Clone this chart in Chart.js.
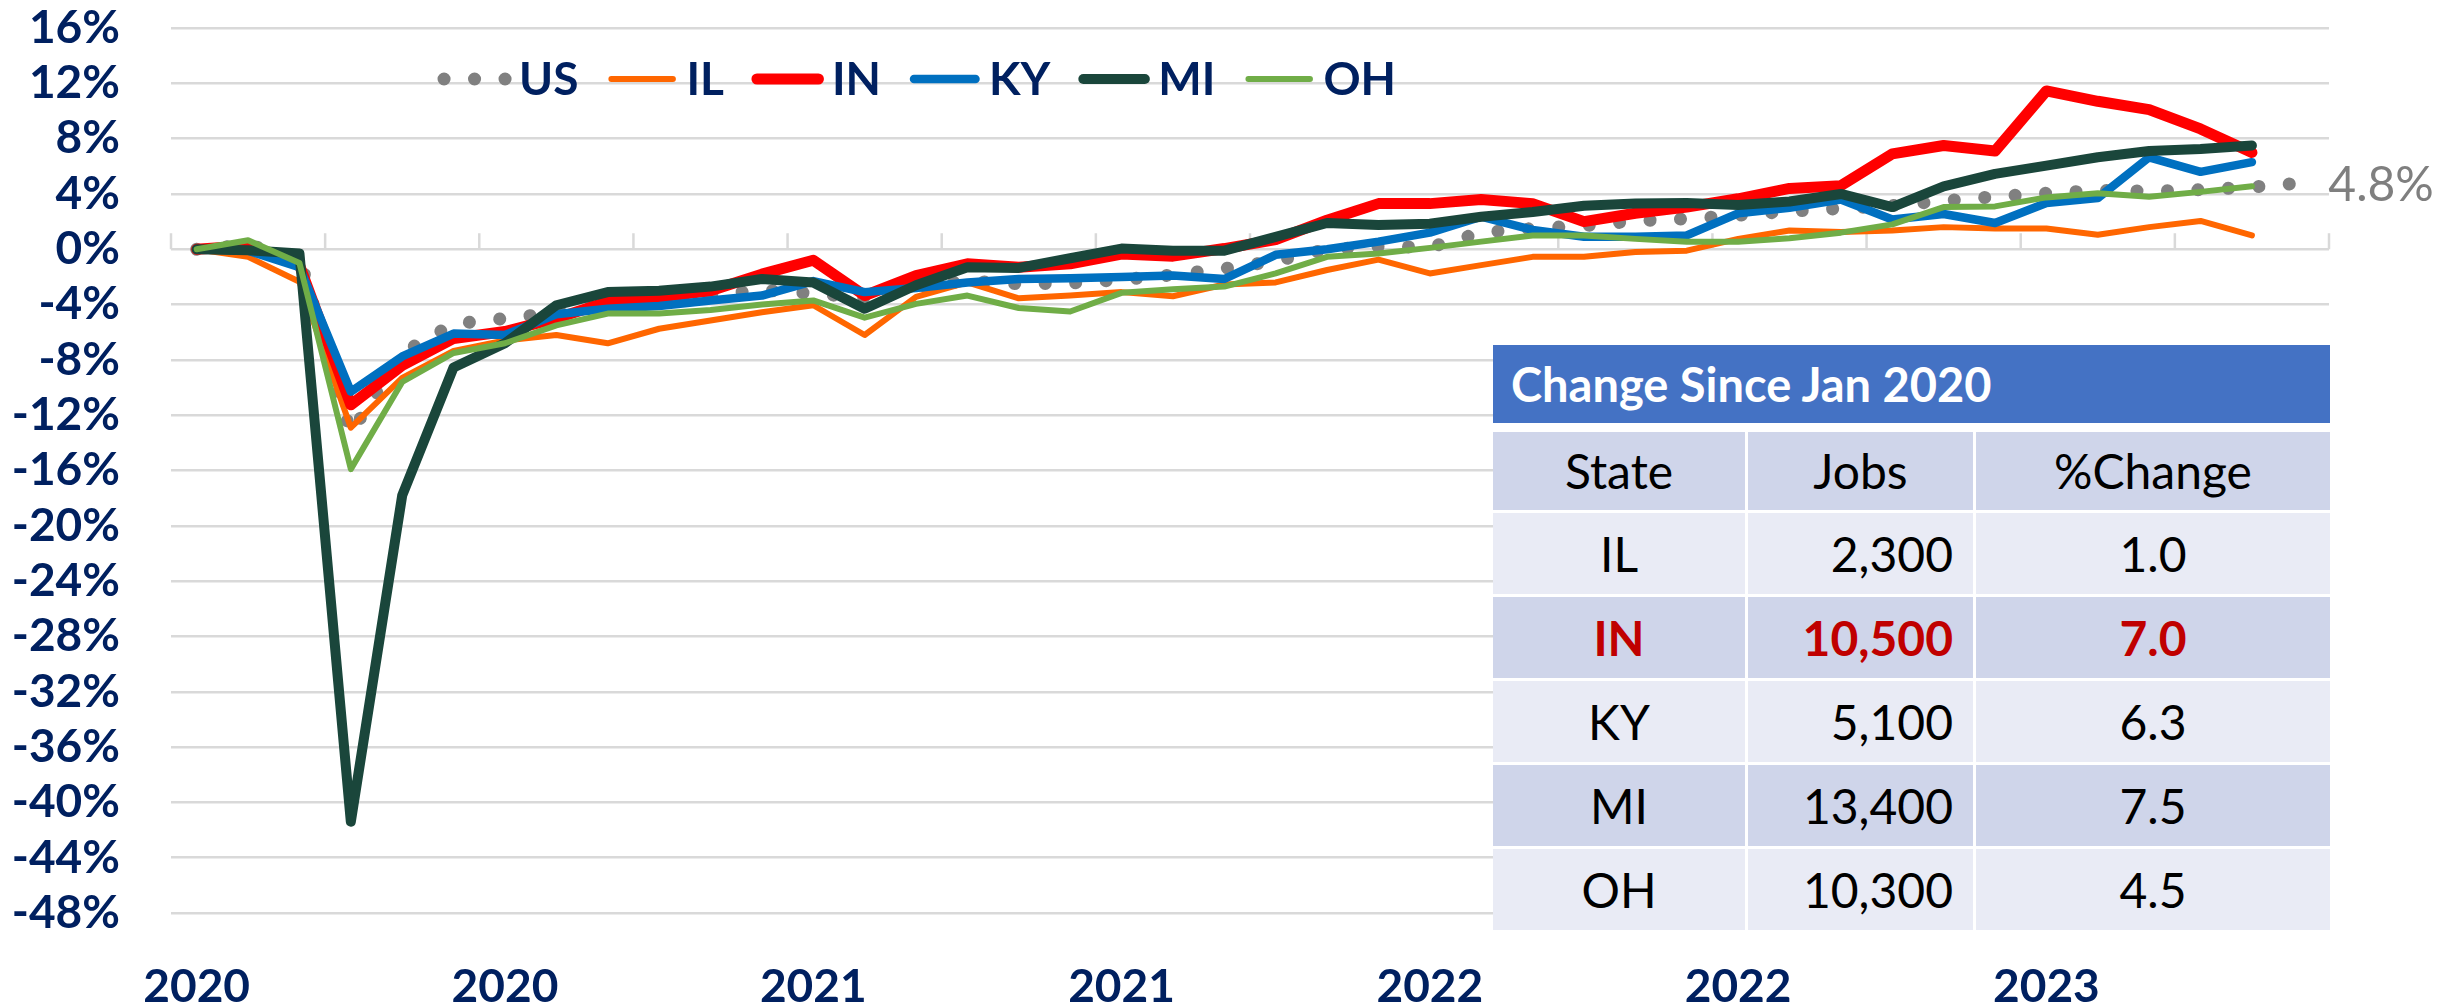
<!DOCTYPE html>
<html>
<head>
<meta charset="utf-8">
<script src="https://cdn.jsdelivr.net/npm/chart.js@4.4.0/dist/chart.umd.min.js"></script>
<style>
  body { margin: 0; background: #fff; }
  #wrap { position: relative; width: 2461px; height: 1004px; }
  #tbl { position: absolute; left: 1493px; top: 345px; width: 837px; background: #fff; font-family: Lato, sans-serif; }
  #tbl .title { height: 78px; line-height: 78px; background: #4472c4; color: #fff; font-weight: bold; font-size: 47px; padding-left: 18px; }
  #tbl .grid { display: grid; grid-template-columns: 252px 225px 354px; column-gap: 3px; row-gap: 3px; margin-top: 9px; }
  #tbl .cell { height: 81px; line-height: 81px; font-size: 48px; color: #000; text-align: center; }
  #tbl .head { height: 78px; line-height: 78px; }
  #tbl .num { text-align: right; padding-right: 20px; }
  #tbl .dark { background: #cfd5ea; }
  #tbl .light { background: #e9ebf5; }
  #tbl .hl { color: #c00000; font-weight: bold; }
</style>
</head>
<body>
<div id="wrap">
  <canvas id="chart" width="2461" height="1004"></canvas>
  <div id="tbl">
    <div class="title">Change Since Jan 2020</div>
    <div class="grid" id="grid"></div>
  </div>
</div>
<script>
var months = ["Jan 2020", "Feb 2020", "Mar 2020", "Apr 2020", "May 2020", "Jun 2020",
  "Jul 2020", "Aug 2020", "Sep 2020", "Oct 2020", "Nov 2020", "Dec 2020",
  "Jan 2021", "Feb 2021", "Mar 2021", "Apr 2021", "May 2021", "Jun 2021",
  "Jul 2021", "Aug 2021", "Sep 2021", "Oct 2021", "Nov 2021", "Dec 2021",
  "Jan 2022", "Feb 2022", "Mar 2022", "Apr 2022", "May 2022", "Jun 2022",
  "Jul 2022", "Aug 2022", "Sep 2022", "Oct 2022", "Nov 2022", "Dec 2022",
  "Jan 2023", "Feb 2023", "Mar 2023", "Apr 2023", "May 2023", "Jun 2023"];

// % change since Jan 2020
var us = [0, 0.3, -0.6, -13.3, -7.5, -5.4, -5.0, -4.6, -4.0, -3.6, -3.3, -2.95, -3.2, -3.5, -2.7,
  -2.3, -2.5, -2.45, -2.2, -1.85, -1.4, -0.85, 0.0, 0.2, 0.15, 1.2, 1.5, 1.7, 2.05, 2.2,
  2.45, 2.75, 2.95, 3.15, 3.5, 3.8, 4.05, 4.25, 4.2, 4.3, 4.5, 4.8];
var il = [0, -0.55, -2.35, -12.9, -9.3, -7.35, -6.6, -6.2, -6.8, -5.75, -5.15, -4.55, -4.05, -6.2,
  -3.45, -2.4, -3.55, -3.35, -3.1, -3.4, -2.55, -2.4, -1.5, -0.75, -1.75, -1.15, -0.55, -0.55,
  -0.2, -0.1, 0.75, 1.35, 1.25, 1.35, 1.6, 1.5, 1.5, 1.05, 1.6, 2.05, 1.0];
var ind = [0, 0.25, -1.15, -11.25, -8.4, -6.45, -5.95, -5.0, -3.8, -3.45, -3.0, -1.8, -0.8, -3.35,
  -1.9, -1.05, -1.3, -1.05, -0.35, -0.5, 0.05, 0.7, 2.1, 3.3, 3.3, 3.6, 3.3, 2.0, 2.6, 3.05,
  3.65, 4.4, 4.6, 6.9, 7.5, 7.1, 11.45, 10.7, 10.1, 8.7, 7.0];
var ky = [0, -0.1, -1.3, -10.3, -7.75, -6.1, -6.2, -4.7, -4.3, -4.1, -3.7, -3.35, -2.3, -3.1, -2.8,
  -2.4, -2.15, -2.1, -2.0, -1.9, -2.15, -0.4, 0.0, 0.55, 1.2, 2.35, 1.4, 0.9, 0.9, 1.0, 2.6, 3.0,
  3.6, 2.15, 2.55, 1.9, 3.35, 3.7, 6.65, 5.6, 6.3];
var mi = [0, -0.07, -0.3, -41.4, -17.8, -8.55, -6.8, -4.05, -3.1, -3.0, -2.7, -2.15, -2.4, -4.3,
  -2.6, -1.3, -1.35, -0.65, 0.05, -0.1, -0.1, 0.9, 1.9, 1.75, 1.85, 2.35, 2.7, 3.15, 3.3, 3.35,
  3.2, 3.45, 4.0, 3.05, 4.55, 5.45, 6.05, 6.65, 7.1, 7.25, 7.5];
var oh = [0, 0.65, -1.0, -15.9, -9.6, -7.5, -6.8, -5.5, -4.65, -4.65, -4.4, -4.0, -3.7, -4.95,
  -3.95, -3.35, -4.25, -4.5, -3.15, -2.9, -2.7, -1.75, -0.55, -0.3, 0.1, 0.55, 1.0, 1.0, 0.75,
  0.55, 0.55, 0.8, 1.2, 1.8, 3.05, 3.1, 3.75, 4.05, 3.8, 4.15, 4.55];

var tableStates = ["IL", "IN", "KY", "MI", "OH"];
var tableJobs = ["2,300", "10,500", "5,100", "13,400", "10,300"];
var tablePct = ["1.0", "7.0", "6.3", "7.5", "4.5"];
var highlightState = "IN";

var navy = "#002060";
var font = "Lato, 'Liberation Sans', sans-serif";

// build the summary table
var grid = document.getElementById("grid");
function addCell(text, cls) {
  var d = document.createElement("div");
  d.className = "cell " + cls;
  d.textContent = text;
  grid.appendChild(d);
}
["State", "Jobs", "%Change"].forEach(function (h) { addCell(h, "head dark"); });
for (var r = 0; r < tableStates.length; r++) {
  var shade = r % 2 === 0 ? "light" : "dark";
  var hl = tableStates[r] === highlightState ? " hl" : "";
  addCell(tableStates[r], shade + hl);
  addCell(tableJobs[r], shade + " num" + hl);
  addCell(tablePct[r], shade + hl);
}

// small tick marks on the 0% line every 3 months
var zeroTicks = {
  id: "zeroTicks",
  beforeDatasetsDraw: function (chart) {
    var x = chart.scales.x, y = chart.scales.y, ctx = chart.ctx;
    var step = (x.right - x.left) / months.length;
    var y0 = y.getPixelForValue(0);
    ctx.save();
    ctx.strokeStyle = "#d9d9d9";
    ctx.lineWidth = 2.5;
    for (var k = 0; k <= months.length; k += 3) {
      var px = x.left + k * step;
      ctx.beginPath();
      ctx.moveTo(px, y0);
      ctx.lineTo(px, y0 - 16);
      ctx.stroke();
    }
    ctx.restore();
  }
};

// legend across the top of the plot
var topLegend = {
  id: "topLegend",
  afterDraw: function (chart) {
    var ctx = chart.ctx;
    var x = 438, y = 79;
    ctx.save();
    ctx.font = "bold 46px " + font;
    ctx.textBaseline = "alphabetic";
    chart.data.datasets.forEach(function (ds) {
      ctx.beginPath();
      ctx.setLineDash(ds.borderDash || []);
      ctx.lineCap = "round";
      ctx.lineWidth = ds.borderWidth;
      ctx.strokeStyle = ds.borderColor;
      ctx.moveTo(x + 6, y);
      ctx.lineTo(x + 67.5, y);
      ctx.stroke();
      ctx.setLineDash([]);
      ctx.fillStyle = navy;
      ctx.fillText(ds.label, x + 81, y + 16);
      x += 81 + ctx.measureText(ds.label).width + 27;
    });
    ctx.restore();
  }
};

// value label at the end of the US line
var endLabel = {
  id: "endLabel",
  afterDraw: function (chart) {
    var meta = chart.getDatasetMeta(0);
    var pt = meta.data[meta.data.length - 1];
    var ctx = chart.ctx;
    ctx.save();
    ctx.font = "48px " + font;
    ctx.fillStyle = "#7f7f7f";
    ctx.textBaseline = "alphabetic";
    ctx.fillText(us[us.length - 1].toFixed(1) + "%", pt.x + 25, pt.y + 18);
    ctx.restore();
  }
};

new Chart(document.getElementById("chart"), {
  type: "line",
  data: {
    labels: months,
    datasets: [
      { label: "US", data: us, borderColor: "#808080", borderWidth: 13, borderDash: [0.1, 30.4], order: 5 },
      { label: "IL", data: il, borderColor: "#ff6600", borderWidth: 6, order: 4 },
      { label: "IN", data: ind, borderColor: "#ff0000", borderWidth: 11, order: 3 },
      { label: "KY", data: ky, borderColor: "#0070c0", borderWidth: 8.5, order: 2 },
      { label: "MI", data: mi, borderColor: "#1a463b", borderWidth: 10, order: 1 },
      { label: "OH", data: oh, borderColor: "#70ad47", borderWidth: 6, order: 0 }
    ]
  },
  options: {
    responsive: false,
    animation: false,
    devicePixelRatio: 1,
    layout: { padding: { top: 28, right: 132, left: 0, bottom: 0 } },
    plugins: { legend: { display: false }, tooltip: { enabled: false } },
    elements: {
      point: { radius: 0 },
      line: { tension: 0, borderJoinStyle: "round", borderCapStyle: "round", fill: false }
    },
    scales: {
      x: {
        offset: true,
        grid: { display: false },
        border: { display: false },
        ticks: {
          autoSkip: false, maxRotation: 0, minRotation: 0, padding: 39, color: navy,
          font: { family: font, weight: "bold", size: 46 },
          callback: function (v, i) { return i % 6 === 0 ? months[i].slice(-4) : ""; }
        },
        afterFit: function (s) { s.height = 91; }
      },
      y: {
        min: -48, max: 16,
        grid: { color: "#d9d9d9", lineWidth: 2.5, drawTicks: false },
        border: { display: false },
        ticks: {
          stepSize: 4, maxTicksLimit: 30, autoSkip: false, padding: 51, color: navy,
          font: { family: font, weight: "bold", size: 46 },
          callback: function (v) { return v + "%"; }
        },
        afterFit: function (s) { s.width = 171; s.paddingTop = 0; s.paddingBottom = 0; }
      }
    }
  },
  plugins: [zeroTicks, topLegend, endLabel]
});
</script>
</body>
</html>
